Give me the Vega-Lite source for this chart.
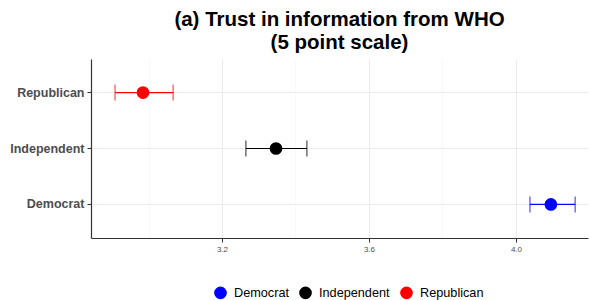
{
  "$schema": "https://vega.github.io/schema/vega-lite/v6.json",
  "width": 497,
  "height": 179,
  "autosize": {"type": "none"},
  "padding": {"left": 91, "top": 59, "right": 1, "bottom": 62},
  "background": "white",
  "title": {
    "text": ["(a) Trust in information from WHO", "(5 point scale)"],
    "font": "Liberation Sans",
    "fontSize": 20.5,
    "fontWeight": "bold",
    "color": "black",
    "lineHeight": 23,
    "anchor": "middle",
    "frame": "group",
    "offset": 6
  },
  "data": {
    "values": [
      {"party": "Democrat", "mean": 4.095, "lower": 4.038, "upper": 4.161},
      {"party": "Independent", "mean": 3.347, "lower": 3.265, "upper": 3.431},
      {"party": "Republican", "mean": 2.985, "lower": 2.909, "upper": 3.067}
    ]
  },
  "config": {
    "view": {"stroke": null},
    "font": "Liberation Sans"
  },
  "encoding": {
    "y": {
      "field": "party",
      "type": "nominal",
      "sort": ["Republican", "Independent", "Democrat"],
      "scale": {"paddingInner": 0, "paddingOuter": 0.1},
      "axis": {
        "title": null,
        "labelFont": "Liberation Sans",
        "labelFontSize": 12.5,
        "labelFontWeight": "bold",
        "labelColor": "#4d4d4d",
        "labelPadding": 3,
        "tickSize": 4,
        "tickColor": "#333333",
        "domainColor": "#333333",
        "domainWidth": 1.2,
        "grid": true,
        "gridColor": "#ebebeb",
        "gridWidth": 1
      }
    },
    "color": {
      "field": "party",
      "type": "nominal",
      "scale": {"domain": ["Democrat", "Independent", "Republican"], "range": ["#0000ff", "#000000", "#ff0000"]},
      "legend": {
        "title": null,
        "orient": "none",
        "legendX": 123,
        "legendY": 227,
        "direction": "horizontal",
        "symbolType": "circle",
        "symbolSize": 160,
        "symbolStrokeWidth": 0,
        "symbolOpacity": 1,
        "labelFont": "Liberation Sans",
        "labelFontSize": 12.7,
        "labelColor": "black",
        "labelOffset": 7,
        "columnPadding": 10
      }
    }
  },
  "layer": [
    {
      "mark": {"type": "rule", "strokeWidth": 1.2},
      "encoding": {
        "x": {"field": "lower", "type": "quantitative"},
        "x2": {"field": "upper"}
      }
    },
    {
      "mark": {"type": "tick", "orient": "vertical", "size": 16, "thickness": 1.2},
      "encoding": {
        "x": {"field": "lower", "type": "quantitative"}
      }
    },
    {
      "mark": {"type": "tick", "orient": "vertical", "size": 16, "thickness": 1.2},
      "encoding": {
        "x": {"field": "upper", "type": "quantitative"}
      }
    },
    {
      "mark": {"type": "point", "filled": true, "opacity": 1, "size": 160, "shape": "circle"},
      "encoding": {
        "x": {
          "field": "mean",
          "type": "quantitative",
          "scale": {"domain": [2.8435, 4.196], "nice": false, "zero": false},
          "axis": {
            "title": null,
            "values": [3.0, 3.2, 3.4, 3.6, 3.8, 4.0],
            "labelExpr": "abs(datum.value*10 % 4) < 0.01 || abs(datum.value*10 % 4 - 4) < 0.01 ? format(datum.value, '.1f') : ''",
            "labelFont": "Liberation Sans",
            "labelFontSize": 8,
            "labelColor": "#4d4d4d",
            "labelPadding": 3,
            "tickSize": 4,
            "tickColor": {"condition": {"test": "abs(datum.value*10 % 4) < 0.01 || abs(datum.value*10 % 4 - 4) < 0.01", "value": "#333333"}, "value": "transparent"},
            "domainColor": "#333333",
            "domainWidth": 1.2,
            "grid": true,
            "gridColor": {"condition": {"test": "abs(datum.value*10 % 4) < 0.01 || abs(datum.value*10 % 4 - 4) < 0.01", "value": "#ebebeb"}, "value": "#f5f5f5"},
            "gridWidth": {"condition": {"test": "abs(datum.value*10 % 4) < 0.01 || abs(datum.value*10 % 4 - 4) < 0.01", "value": 1}, "value": 0.6}
          }
        }
      }
    }
  ]
}
